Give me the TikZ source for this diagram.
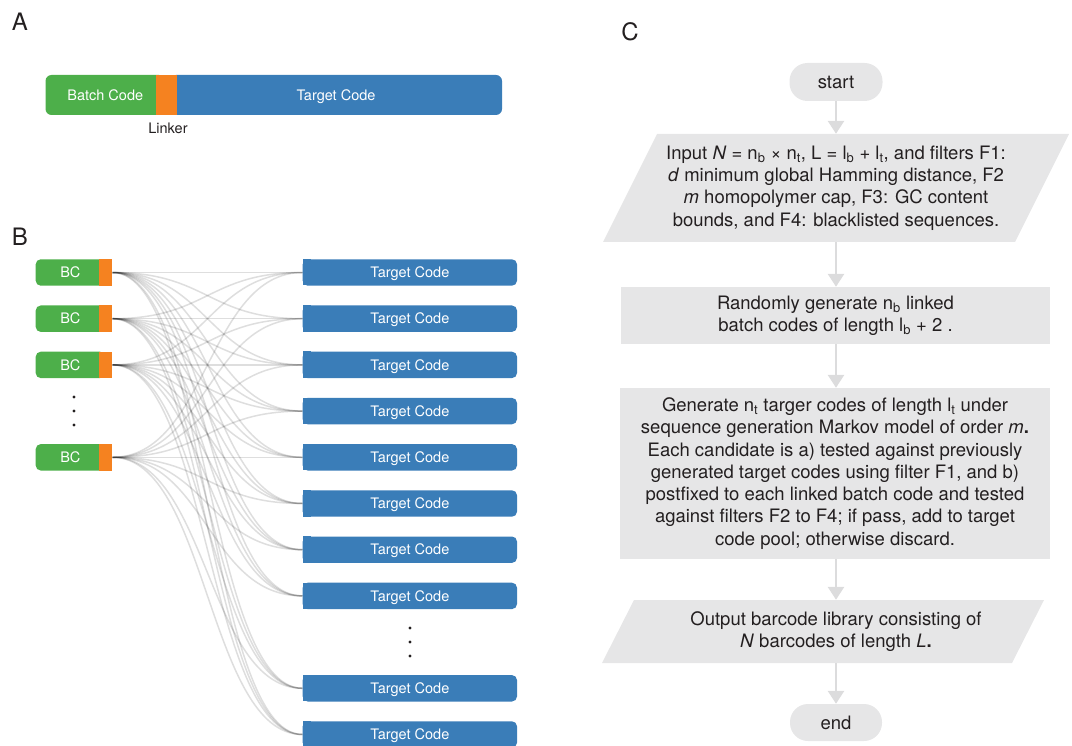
\documentclass[tikz,border=0pt]{standalone}
\usepackage{fontspec}
\setmainfont{TeX Gyre Heros}
\usetikzlibrary{arrows.meta,calc}
\pgfdeclarelayer{bg}
\pgfsetlayers{bg,main}
\definecolor{cgreen}{HTML}{4DAF4A}
\definecolor{corange}{HTML}{F58220}
\definecolor{cblue}{HTML}{3A7DB8}
\definecolor{flowfill}{HTML}{E6E6E7}
\definecolor{flowarrow}{HTML}{DCDCDD}
\definecolor{txt}{HTML}{231F20}
\tikzset{
  panellabel/.style={font=\fontsize{24}{26}\selectfont, text=txt, inner sep=0pt},
  codefont/.style={font=\fontsize{14.5}{16}\selectfont},
  greenbox/.style={codefont, fill=cgreen, text=white, rounded corners=6pt, inner sep=0pt, text height=10.4pt, text depth=0pt},
  orangebox/.style={fill=corange, inner sep=0pt},
  bluebox/.style={codefont, fill=cblue, text=white, rounded corners=6pt, inner sep=0pt, text height=10.4pt, text depth=0pt},
  linkline/.style={draw=black, draw opacity=0.13, line width=1.5pt},
  flowtext/.style={font=\fontsize{18.5}{22.3}\selectfont, text=txt, align=center, inner sep=0pt},
  flowbox/.style={flowtext, fill=flowfill},
  pill/.style={flowtext, fill=flowfill, rounded corners=18pt},
  flowline/.style={draw=flowarrow, line width=2.8pt, -{Triangle[width=16pt,length=13pt]}},
}
\begin{document}
\begin{tikzpicture}[x=1pt,y=-1pt]
\useasboundingbox (0,0) rectangle (1072,746);

% ---------- Panel A ----------
\node[panellabel] (labA) at (20,22) {A};
\node[greenbox, minimum width=119.5, minimum height=40] (batchA) at (105.25,95) {Batch Code};
\node[bluebox, minimum width=332, minimum height=40] (targetA) at (336,95) {Target Code};
\node[orangebox, minimum width=21.3, minimum height=40] (linkA) at (166.35,95) {};
\node[codefont, text=txt, inner sep=0pt] (linkerA) at (168,128) {Linker};

% ---------- Panel B ----------
\node[panellabel] (labB) at (20,237) {B};
\foreach \i/\y in {1/272.5,2/318.7,3/364.9,4/457.3}{
  \node[greenbox, rounded corners=5pt, minimum width=69.3, minimum height=26.4] (bc\i) at (70.35,\y) {BC};
  \node[orangebox, minimum width=13.3, minimum height=26.4] (lk\i) at (105.65,\y) {};
}
\foreach \i/\y in {1/272.5,2/318.7,3/364.9,4/411.1,5/457.3,6/503.5,7/549.7,8/595.9,9/688.3,10/734.5}{
  \node[bluebox, rounded corners=5pt, minimum width=214.3, minimum height=26.4] (t\i) at (409.85,\y) {Target Code};
  \fill[cblue] (t\i.north west) rectangle ++(8,26.4);
}
\begin{pgfonlayer}{bg}
\foreach \i in {1,...,4}{
  \foreach \j in {1,...,10}{
    \draw[linkline] (lk\i.east) .. controls +(95,0) and +(-95,0) .. (t\j.west);
  }
}
\end{pgfonlayer}
\foreach \y in {397,411,425}{\fill[txt] (74,\y) circle (1.6);}
\foreach \y in {628,642,656}{\fill[txt] (410,\y) circle (1.6);}

% ---------- Panel C ----------
\node[panellabel] (labC) at (630,32) {C};
\node[pill, minimum width=93, minimum height=38] (start) at (836,82) {start};

\fill[flowfill] (657,134) -- (1069,134) -- (1015,242) -- (603,242) -- cycle;
\node[flowtext, minimum height=108] (input) at (836,188) {Input \textit{N} = n\textsubscript{b} × n\textsubscript{t}, L = l\textsubscript{b} + l\textsubscript{t}, and filters F1:\\
\textit{d} minimum global Hamming distance, F2\\
\textit{m} homopolymer cap, F3: GC content\\
bounds, and F4: blacklisted sequences.};

\node[flowbox, minimum width=429, minimum height=57] (gen1) at (835.5,315.5) {Randomly generate n\textsubscript{b} linked\\batch codes of length l\textsubscript{b} + 2 .};

\node[flowbox, minimum width=430, minimum height=171] (gen2) at (835,473.5) {Generate n\textsubscript{t} targer codes of length l\textsubscript{t} under\\
sequence generation Markov model of order \textit{m}\textbf{.}\\
Each candidate is a) tested against previously\\
generated target codes using filter F1, and b)\\
postfixed to each linked batch code and tested\\
against filters F2 to F4; if pass, add to target\\
code pool; otherwise discard.};

\fill[flowfill] (634,600) -- (1044,600) -- (1012,663) -- (602,663) -- cycle;
\node[flowtext, minimum height=63] (output) at (836,631.5) {Output barcode library consisting of\\\textit{N} barcodes of length \textit{L}\textbf{.}};

\node[pill, minimum width=92, minimum height=37] (end) at (836,722.5) {end};

\draw[flowline] (start.south) -- (start.south |- input.north);
\draw[flowline] (input.south) -- (input.south |- gen1.north);
\draw[flowline] (input.south |- gen1.south) -- (input.south |- gen2.north);
\draw[flowline] (input.south |- gen2.south) -- (output.north);
\draw[flowline] (output.south) -- (output.south |- end.north);
\end{tikzpicture}
\end{document}
